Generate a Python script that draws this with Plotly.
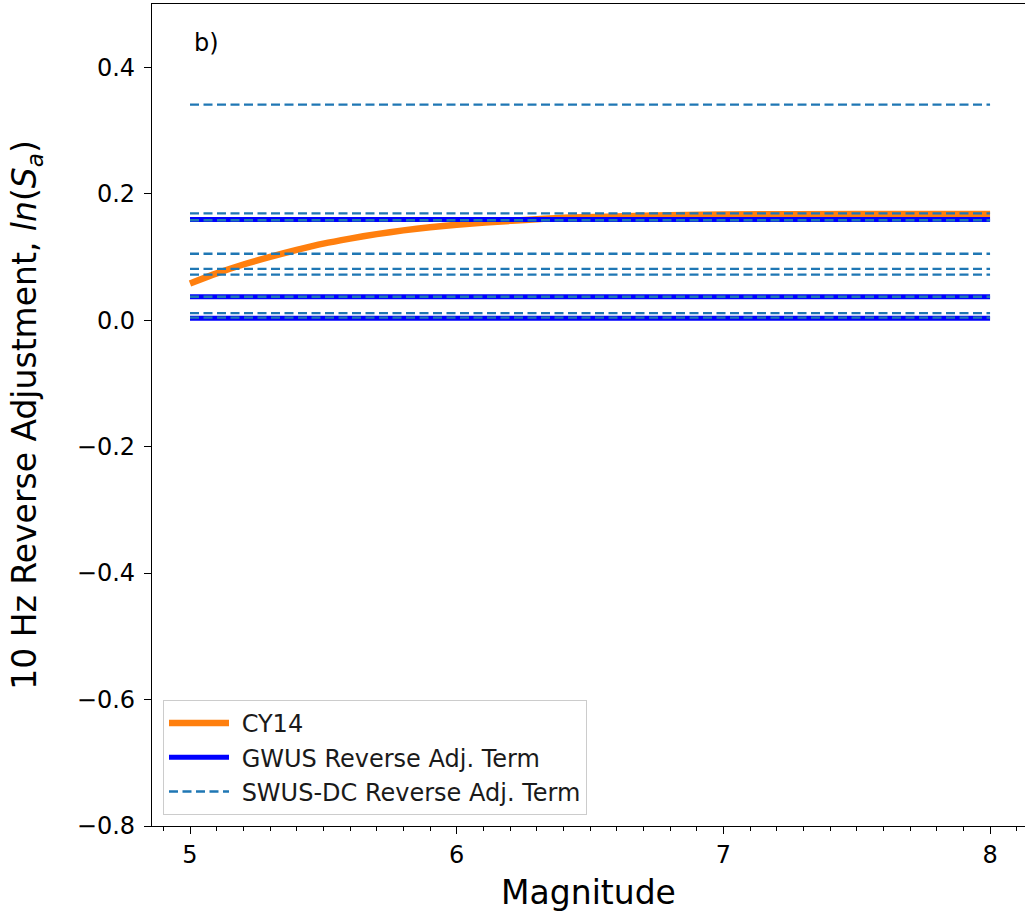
import plotly.graph_objects as go

# ---- data ----
magnitude_span = [5.0, 8.0]

cy14_magnitude = [5.0, 5.1, 5.2, 5.3, 5.4, 5.5, 5.6, 5.7, 5.8, 5.9, 6.0,
                  6.2, 6.4, 6.6, 6.8, 7.0, 7.5, 8.0]
cy14_adjustment = [0.058, 0.074, 0.088, 0.100, 0.111, 0.121, 0.129, 0.136,
                   0.142, 0.147, 0.151, 0.157, 0.162, 0.164, 0.166, 0.167,
                   0.168, 0.168]

gwus_terms = [0.159, 0.037, 0.003]
swus_dc_terms = [0.341, 0.169, 0.158, 0.105, 0.081, 0.072, 0.037, 0.011, 0.004]

y_ticks = [-0.8, -0.6, -0.4, -0.2, 0.0, 0.2, 0.4]
x_ticks = [5, 6, 7, 8]

FONT = "DejaVu Sans"
PAD = "\u00a0"

fig = go.Figure()

fig.add_trace(go.Scatter(
    x=cy14_magnitude, y=cy14_adjustment, mode="lines", name=PAD + "CY14",
    line=dict(color="#ff7f0e", width=6.5, shape="spline", smoothing=0.8),
    showlegend=True))

for i, v in enumerate(gwus_terms):
    fig.add_trace(go.Scatter(
        x=magnitude_span, y=[v, v], mode="lines",
        name=PAD + "GWUS Reverse Adj. Term",
        line=dict(color="#0000ff", width=5), showlegend=(i == 0)))

for i, v in enumerate(swus_dc_terms):
    fig.add_trace(go.Scatter(
        x=magnitude_span, y=[v, v], mode="lines",
        name=PAD + "SWUS-DC Reverse Adj. Term",
        line=dict(color="#1f77b4", width=2.3, dash="9px,4.5px"),
        showlegend=(i == 0)))

fig.add_annotation(x=5.007, y=0.438, xref="x", yref="y", text="b)",
                   showarrow=False, xanchor="left", yanchor="middle",
                   font=dict(family=FONT, size=24, color="black"))

fig.update_layout(
    width=1025, height=912,
    margin=dict(l=152, r=0, t=4, b=86),
    paper_bgcolor="white", plot_bgcolor="white",
    font=dict(family=FONT, size=24, color="black"),
    showlegend=True,
    legend=dict(x=0.0126, y=0.0134, xanchor="left", yanchor="bottom",
                bgcolor="rgba(255,255,255,0.8)", bordercolor="#cccccc",
                borderwidth=1, itemwidth=60,
                font=dict(family=FONT, size=24, color="#1a1a1a")),
)

fig.update_xaxes(
    range=[4.8575, 8.131], tickvals=x_ticks, ticktext=[str(t) for t in x_ticks],
    ticks="outside", ticklen=7, tickwidth=1.3, tickcolor="black",
    minor=dict(dtick=0.1, tick0=5, ticks="outside", ticklen=4, tickwidth=1, tickcolor="black"),
    showline=True, linecolor="black", linewidth=1.3, mirror=True,
    showgrid=False, zeroline=False, automargin=False,
    tickfont=dict(family=FONT, size=24, color="black"),
    title=dict(text="Magnitude", font=dict(family=FONT, size=33, color="black"), standoff=12),
)

fig.update_yaxes(
    range=[-0.8, 0.5], tickvals=y_ticks, tickformat=".1f",
    ticks="outside", ticklen=7, tickwidth=1.3, tickcolor="black",
    ticklabelstandoff=4,
    showline=True, linecolor="black", linewidth=1.3,
    showgrid=False, zeroline=False, automargin=False,
    tickfont=dict(family=FONT, size=24, color="black"),
    title=dict(text="10 Hz Reverse Adjustment, <i>ln</i>(<i>S</i><sub><i>a</i></sub>)",
               font=dict(family=FONT, size=33, color="black"), standoff=30),
)

fig.write_html("out.html",
               config={"displayModeBar": False},
               post_script="document.body.style.margin='0';document.body.style.overflow='hidden';")
